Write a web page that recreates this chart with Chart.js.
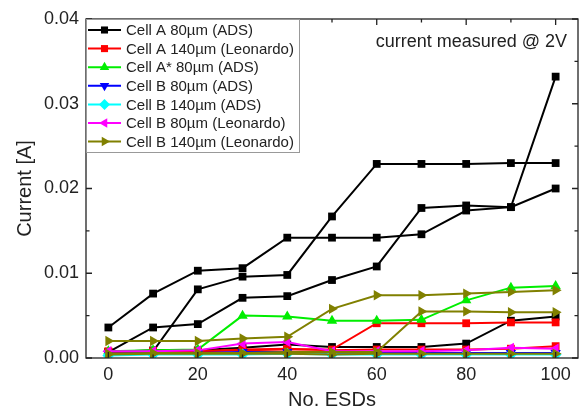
<!DOCTYPE html>
<html>
<head>
<meta charset="utf-8">
<script src="https://cdn.jsdelivr.net/npm/chart.js@4/dist/chart.umd.min.js"></script>
<style>
  html, body { margin: 0; padding: 0; background: #fff; }
  canvas { display: block; }
</style>
</head>
<body>
<canvas id="chart" width="584" height="410"></canvas>
<script>
// ESD count on the x axis
const esds = [0, 10, 20, 30, 40, 50, 60, 70, 80, 90, 100];
const xTicks = [0, 20, 40, 60, 80, 100];
const yTicks = [0, 0.01, 0.02, 0.03, 0.04];

// Cell A 80µm (ADS) - four devices
const cellA80ads_1 = [0.0036, 0.0076, 0.0103, 0.0106, 0.0142, 0.0142, 0.0142, 0.0146, 0.0174, 0.0178, 0.0332];
const cellA80ads_2 = [0.0007, 0.0036, 0.0040, 0.0071, 0.0073, 0.0092, 0.0108, 0.0177, 0.0180, 0.0178, 0.0200];
const cellA80ads_3 = [0.0006, 0.0008, 0.0081, 0.0096, 0.0098, 0.0167, 0.0229, 0.0229, 0.0229, 0.0230, 0.0230];
const cellA80ads_4 = [0.0007, 0.0009, 0.0009, 0.0012, 0.0016, 0.0013, 0.0013, 0.0013, 0.0017, 0.0044, 0.0049];
// Cell A 140µm (Leonardo)
const cellA140leo_1 = [0.0008, 0.0008, 0.0008, 0.0009, 0.0010, 0.0010, 0.0041, 0.0041, 0.0041, 0.0042, 0.0042];
const cellA140leo_2 = [0.0007, 0.0008, 0.0008, 0.0010, 0.0011, 0.0009, 0.0010, 0.0010, 0.0010, 0.0011, 0.0014];
// Cell A* 80µm (ADS)
const cellAstar80ads = [0.0008, 0.0009, 0.0010, 0.0050, 0.0049, 0.0044, 0.0044, 0.0045, 0.0068, 0.0083, 0.0085];
// Cell B 80µm (ADS)
const cellB80ads = [0.0005, 0.0006, 0.0006, 0.0007, 0.0007, 0.0006, 0.0006, 0.0006, 0.0006, 0.0006, 0.0006];
// Cell B 140µm (ADS)
const cellB140ads = [0.0003, 0.0004, 0.0004, 0.0004, 0.0005, 0.0004, 0.0004, 0.0004, 0.0004, 0.0004, 0.0004];
// Cell B 80µm (Leonardo)
const cellB80leo = [0.0008, 0.0008, 0.0009, 0.0017, 0.0019, 0.0008, 0.0008, 0.0008, 0.0009, 0.0012, 0.0011];
// Cell B 140µm (Leonardo) - three devices
const cellB140leo_1 = [0.0020, 0.0020, 0.0020, 0.0023, 0.0025, 0.0058, 0.0074, 0.0074, 0.0076, 0.0078, 0.0080];
const cellB140leo_2 = [0.0005, 0.0006, 0.0006, 0.0006, 0.0007, 0.0007, 0.0007, 0.0055, 0.0055, 0.0054, 0.0054];
const cellB140leo_3 = [0.0004, 0.0005, 0.0005, 0.0005, 0.0005, 0.0004, 0.0005, 0.0005, 0.0005, 0.0005, 0.0005];

const FONT = "'Liberation Sans', Arial, sans-serif";

// legend groups: label, colour, marker
const groups = [
    { label: 'Cell A 80µm (ADS)', color: '#000000', style: 'rect', rot: 0, series: [cellA80ads_1, cellA80ads_2, cellA80ads_3, cellA80ads_4] },
    { label: 'Cell A 140µm (Leonardo)', color: '#ff0000', style: 'rect', rot: 0, series: [cellA140leo_1, cellA140leo_2] },
    { label: 'Cell A* 80µm (ADS)', color: '#00ee00', style: 'triangle', rot: 0, series: [cellAstar80ads] },
    { label: 'Cell B 80µm (ADS)', color: '#0000ff', style: 'triangle', rot: 180, series: [cellB80ads] },
    { label: 'Cell B 140µm (ADS)', color: '#00ffff', style: 'rectRot', rot: 0, series: [cellB140ads] },
    { label: 'Cell B 80µm (Leonardo)', color: '#ff00ff', style: 'triangle', rot: -90, series: [cellB80leo] },
    { label: 'Cell B 140µm (Leonardo)', color: '#808000', style: 'triangle', rot: 90, series: [cellB140leo_1, cellB140leo_2, cellB140leo_3] }
];

function radiusFor(style) {
    return style === 'rect' ? 5.5 : 6;
}

// later groups drawn on top (first dataset is drawn last in Chart.js)
const datasets = [];
groups.slice().reverse().forEach(g => {
    g.series.forEach(s => {
        datasets.push({
            label: g.label,
            data: esds.map((x, i) => ({ x: x, y: s[i] })),
            borderColor: g.color,
            backgroundColor: g.color,
            borderWidth: 2,
            pointStyle: g.style,
            rotation: g.rot,
            pointRadius: radiusFor(g.style),
            pointBorderWidth: 0,
            tension: 0
        });
    });
});

const framePlugin = {
    id: 'frame',
    afterDraw(chart) {
        const ctx = chart.ctx;
        const a = chart.chartArea;
        const xs = chart.scales.x, ys = chart.scales.y;
        ctx.save();
        ctx.strokeStyle = '#222';
        ctx.lineWidth = 1.3;
        ctx.strokeRect(a.left, a.top, a.right - a.left, a.bottom - a.top);
        ctx.beginPath();
        // x ticks, inside, bottom and top
        for (let v = 0; v <= 100; v += 10) {
            const px = xs.getPixelForValue(v);
            const len = v % 20 === 0 ? 6 : 3.5;
            ctx.moveTo(px, a.bottom); ctx.lineTo(px, a.bottom - len);
            ctx.moveTo(px, a.top); ctx.lineTo(px, a.top + len);
        }
        // y ticks, inside, left and right
        for (let k = 0; k <= 8; k++) {
            const py = ys.getPixelForValue(k * 0.005);
            const len = k % 2 === 0 ? 6 : 3.5;
            ctx.moveTo(a.left, py); ctx.lineTo(a.left + len, py);
            ctx.moveTo(a.right, py); ctx.lineTo(a.right - len, py);
        }
        ctx.stroke();

        // legend box
        const bx = a.left, by = a.top, bw = 213, bh = 133;
        ctx.fillStyle = '#fff';
        ctx.fillRect(bx, by, bw, bh);
        ctx.strokeStyle = '#999';
        ctx.lineWidth = 1;
        ctx.strokeRect(bx + 0.5, by + 0.5, bw, bh);
        ctx.font = '15px ' + FONT;
        ctx.textBaseline = 'middle';
        groups.forEach((g, i) => {
            const cy = by + 11 + i * 18.6;
            ctx.strokeStyle = g.color;
            ctx.lineWidth = 2;
            ctx.beginPath();
            ctx.moveTo(bx + 2, cy); ctx.lineTo(bx + 35, cy);
            ctx.stroke();
            ctx.fillStyle = g.color;
            Chart.helpers.drawPoint(ctx, {
                pointStyle: g.style, rotation: g.rot, radius: radiusFor(g.style) - 0.5, borderWidth: 0
            }, bx + 18.5, cy);
            ctx.fillStyle = '#222';
            ctx.fillText(g.label, bx + 40, cy + 1);
        });

        // annotation
        ctx.font = '18px ' + FONT;
        ctx.fillStyle = '#222';
        ctx.textAlign = 'right';
        ctx.fillText('current measured @ 2V', 567, 42);
        ctx.restore();
    }
};

new Chart(document.getElementById('chart'), {
    type: 'line',
    data: { datasets: datasets },
    options: {
        responsive: false,
        animation: false,
        layout: { padding: { top: 19, right: 3, left: 0, bottom: 0 } },
        plugins: {
            legend: { display: false },
            tooltip: { enabled: false }
        },
        scales: {
            x: {
                type: 'linear',
                min: -5,
                max: 105,
                afterBuildTicks: s => { s.ticks = xTicks.map(v => ({ value: v })); },
                afterFit: s => { s.height = 52; },
                grid: { display: false, drawTicks: false },
                border: { display: false },
                ticks: { color: '#222', font: { family: FONT, size: 18 }, padding: 6, maxRotation: 0 },
                title: { display: true, text: 'No. ESDs', color: '#222', font: { family: FONT, size: 20, lineHeight: 1 }, padding: { top: 0, bottom: 0 } }
            },
            y: {
                min: 0,
                max: 0.04,
                afterBuildTicks: s => { s.ticks = yTicks.map(v => ({ value: v })); },
                afterFit: s => { s.width = 86; },
                grid: { display: false, drawTicks: false },
                border: { display: false },
                ticks: { color: '#222', font: { family: FONT, size: 18 }, padding: 7, callback: v => v.toFixed(2) },
                title: { display: true, text: 'Current [A]', color: '#222', font: { family: FONT, size: 20, lineHeight: 1 }, padding: { top: 15, bottom: 0 } }
            }
        }
    },
    plugins: [framePlugin]
});
</script>
</body>
</html>
